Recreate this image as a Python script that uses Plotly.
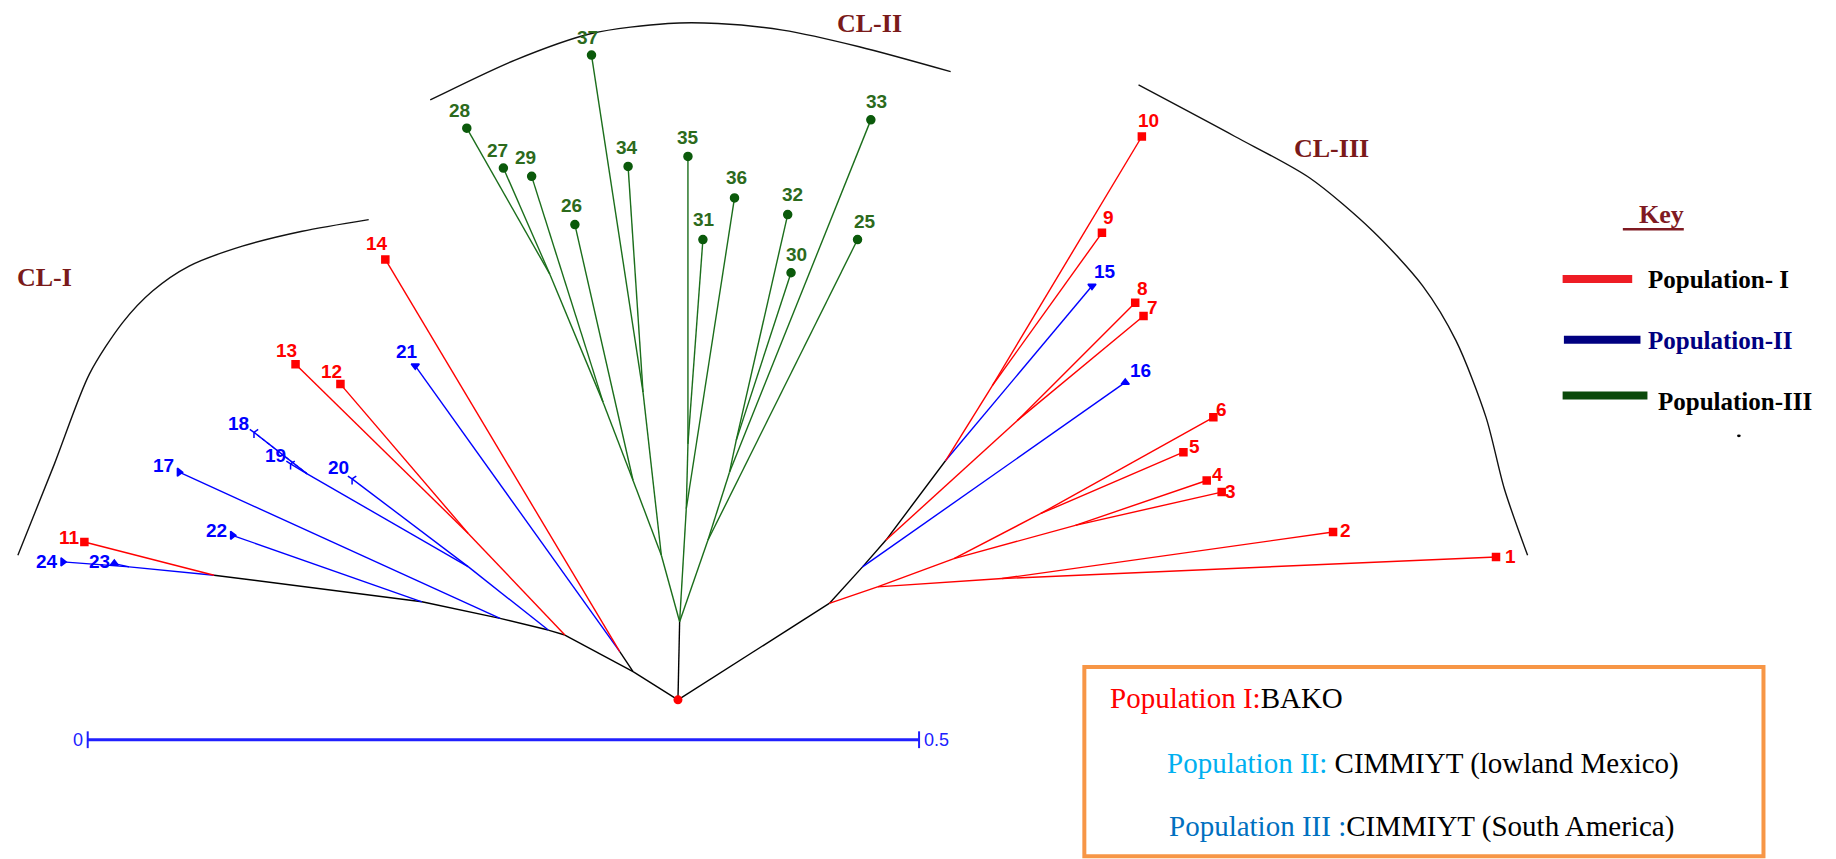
import plotly.graph_objects as go

# ---------------- data (tree distance units, root of the tree at origin) ----------------
leaf_ids = [str(i) for i in range(1, 38)]
# 1 = Population I (BAKO), 2 = Population II, 3 = Population III
leaf_pop = [1] * 14 + [2] * 10 + [3] * 13
leaf_x = [0.492, 0.394, 0.327, 0.318, 0.304, 0.322, 0.280, 0.275, 0.255, 0.279,
          -0.357, -0.203, -0.230, -0.176, 0.249, 0.269, -0.300, -0.255, -0.233, -0.196,
          -0.158, -0.268, -0.339, -0.370, 0.108, -0.062, -0.105, -0.127, -0.088, 0.068,
          0.015, 0.066, 0.116, -0.030, 0.006, 0.034, -0.052]
leaf_y = [0.086, 0.101, 0.125, 0.132, 0.149, 0.170, 0.231, 0.239, 0.281, 0.339,
          0.095, 0.190, 0.202, 0.265, 0.249, 0.191, 0.137, 0.161, 0.142, 0.133,
          0.201, 0.099, 0.082, 0.083, 0.277, 0.286, 0.320, 0.344, 0.315, 0.257,
          0.277, 0.292, 0.349, 0.321, 0.327, 0.302, 0.388]

node_names = ['R', 'G0', 'GL', 'GL1', 'GL2', 'G2827', 'GA', 'GM', 'GM1', 'GR', 'GR1', 'GR2',
              'L1', 'N1421', 'L2', 'N1213', 'L3', 'B1', 'B19', 'L4', 'L5', 'L6', 'N2324',
              'Rn1', 'N1', 'N12', 'N3456', 'N34', 'N56', 'Rn2', 'Rn3', 'N78', 'Rn4', 'N910']
node_x = [0.0, 0.001, -0.010, -0.027, -0.045, -0.077, -0.021, 0.005, 0.006, 0.018, 0.031, 0.035,
          -0.027, -0.035, -0.068, -0.126, -0.078, -0.126, -0.223, -0.107, -0.154, -0.279, -0.330,
          0.091, 0.120, 0.195, 0.166, 0.239, 0.218, 0.111, 0.125, 0.204, 0.161, 0.189]
node_y = [0.0, 0.047, 0.087, 0.132, 0.179, 0.256, 0.185, 0.115, 0.154, 0.096, 0.137, 0.156,
          0.017, 0.029, 0.039, 0.100, 0.042, 0.080, 0.136, 0.049, 0.059, 0.075, 0.080,
          0.058, 0.068, 0.073, 0.085, 0.105, 0.112, 0.080, 0.096, 0.168, 0.144, 0.189]
# clade of each internal node: 0 = backbone (black), else population
node_clade = [0, 0, 3, 3, 3, 3, 3, 3, 3, 3, 3, 3,
              0, 0, 0, 1, 0, 2, 2, 0, 0, 0, 2,
              0, 1, 1, 1, 1, 1, 0, 0, 1, 0, 1]

edges = [
    ('R', 'G0'), ('G0', 'GL'), ('G0', 'GM'), ('G0', 'GR'), ('GL', 'GL1'), ('GL', 'GA'),
    ('GL1', 'GL2'), ('GL1', '26'), ('GL2', 'G2827'), ('GL2', '29'), ('G2827', '28'),
    ('G2827', '27'), ('GA', '37'), ('GA', '34'), ('GM', 'GM1'), ('GM', '36'), ('GM1', '35'),
    ('GM1', '31'), ('GR', '25'), ('GR', 'GR1'), ('GR1', '33'), ('GR1', 'GR2'), ('GR2', '32'),
    ('GR2', '30'),
    ('R', 'L1'), ('L1', 'N1421'), ('N1421', '14'), ('N1421', '21'), ('L1', 'L2'),
    ('L2', 'N1213'), ('N1213', '12'), ('N1213', '13'), ('L2', 'L3'), ('L3', 'B1'),
    ('B1', '20'), ('B1', 'B19'), ('B19', '19'), ('B19', '18'), ('L3', 'L4'), ('L4', '17'),
    ('L4', 'L5'), ('L5', '22'), ('L5', 'L6'), ('L6', '11'), ('L6', 'N2324'), ('N2324', '23'),
    ('N2324', '24'),
    ('R', 'Rn1'), ('Rn1', 'N1'), ('N1', 'N12'), ('N12', '1'), ('N12', '2'), ('N1', 'N3456'),
    ('N3456', 'N34'), ('N34', '3'), ('N34', '4'), ('N3456', 'N56'), ('N56', '5'), ('N56', '6'),
    ('Rn1', 'Rn2'), ('Rn2', '16'), ('Rn2', 'Rn3'), ('Rn3', 'N78'), ('N78', '7'), ('N78', '8'),
    ('Rn3', 'Rn4'), ('Rn4', '15'), ('Rn4', 'N910'), ('N910', '9'), ('N910', '10'),
]
faint_edges = [('B19', '18')]

cluster_names = ['CL-I', 'CL-II', 'CL-III']
cluster_label_x = [-0.381, 0.115, 0.393]
cluster_label_y = [0.254, 0.407, 0.332]
arc1_x = [-0.397, -0.375, -0.354, -0.334, -0.316, -0.294, -0.262, -0.226, -0.186]
arc1_y = [0.087, 0.142, 0.196, 0.227, 0.246, 0.261, 0.273, 0.282, 0.289]
arc2_x = [-0.149, -0.098, -0.052, -0.006, 0.024, 0.063, 0.109, 0.164]
arc2_y = [0.361, 0.385, 0.401, 0.407, 0.407, 0.403, 0.393, 0.378]
arc3_x = [0.277, 0.335, 0.380, 0.418, 0.448, 0.468, 0.486, 0.497, 0.511]
arc3_y = [0.370, 0.339, 0.314, 0.282, 0.249, 0.216, 0.170, 0.127, 0.087]

scale_start = -0.355
scale_len = 0.5
scale_y = -0.024

pop_names = ['Population- I', 'Population-II', 'Population-III']

# ---------------- styles ----------------
RED, BLUE, GREEN = '#FF0000', '#0000FF', '#1B6E1B'
clade_color = {0: '#000000', 1: RED, 2: BLUE, 3: GREEN}
label_color = {1: '#FF0000', 2: '#0000FF', 3: '#2C6A1C'}
marker_color = {1: '#FF0000', 2: '#0000FF', 3: '#0B5A0B'}
leaf_symbol = (['square'] * 14 +
               ['triangle-down', 'triangle-up', 'triangle-right', 'y-down-open', 'y-down-open',
                'y-down-open', 'triangle-down', 'triangle-right', 'triangle-up', 'triangle-right'] +
               ['circle'] * 13)
# label offsets in screen px (dx right, dy down)
label_off = [(14, 0), (12, -2), (9, -1), (11, -6), (11, -6), (8, -8), (9, -8), (7, -14), (7, -15),
             (7, -16), (-15, -4), (-9, -13), (-9, -14), (-8, -16), (13, -15), (15, -12), (-16, -7),
             (-15, -9), (-15, -8), (-14, -11), (-8, -14), (-16, -5), (-15, -2), (-16, 0),
             (7, -18), (-3, -19), (-6, -18), (-7, -18), (-6, -19), (5, -18), (1, -20), (5, -20),
             (6, -18), (-1, -19), (0, -19), (2, -20), (-4, -18)]

pos = {}
for n, x, y in zip(leaf_ids, leaf_x, leaf_y):
    pos[n] = (x, y)
for n, x, y in zip(node_names, node_x, node_y):
    pos[n] = (x, y)
col_of = {n: clade_color[p] for n, p in zip(leaf_ids, leaf_pop)}
col_of.update({n: clade_color[c] for n, c in zip(node_names, node_clade)})

fig = go.Figure()

# edges grouped by color
groups = {}
for a, b in edges:
    c = col_of[b]
    xs, ys = groups.setdefault(c, ([], []))
    xs += [pos[a][0], pos[b][0], None]
    ys += [pos[a][1], pos[b][1], None]
order = ['#000000', GREEN, BLUE, RED]
for c in order:
    if c in groups:
        xs, ys = groups[c]
        fig.add_trace(go.Scatter(x=xs, y=ys, mode='lines', hoverinfo='skip',
                                 line=dict(color=c, width=1.4)))
for a, b in faint_edges:
    fig.add_trace(go.Scatter(x=[pos[a][0], pos[b][0]], y=[pos[a][1], pos[b][1]], mode='lines',
                             line=dict(color=BLUE, width=1.2, dash='dot'), hoverinfo='skip'))

# cluster arcs
for ax_, ay_ in [(arc1_x, arc1_y), (arc2_x, arc2_y), (arc3_x, arc3_y)]:
    fig.add_trace(go.Scatter(x=ax_, y=ay_, mode='lines', hoverinfo='skip',
                             line=dict(color='#111111', width=1.4, shape='spline', smoothing=0.8)))

# leaf markers
for p in (1, 2, 3):
    idx = [i for i, q in enumerate(leaf_pop) if q == p]
    fig.add_trace(go.Scatter(
        x=[leaf_x[i] for i in idx], y=[leaf_y[i] for i in idx], mode='markers',
        text=[leaf_ids[i] for i in idx], hoverinfo='text',
        marker=dict(symbol=[leaf_symbol[i] for i in idx], size=8 if p == 3 else 7,
                    color=marker_color[p], line=dict(color=marker_color[p], width=1.5))))

# root
fig.add_trace(go.Scatter(x=[pos['R'][0]], y=[pos['R'][1]], mode='markers', hoverinfo='skip',
                         marker=dict(symbol='circle', size=9, color='#FF0000')))

# scale bar
fig.add_trace(go.Scatter(x=[scale_start, scale_start + scale_len], y=[scale_y, scale_y],
                         mode='lines+markers', hoverinfo='skip',
                         line=dict(color='#2020FF', width=3),
                         marker=dict(symbol='line-ns-open', size=12,
                                     line=dict(color='#2020FF', width=2))))

ann = []
label_font = 'Liberation Sans Narrow, Arial Narrow, Liberation Sans, Arial'
for i, n in enumerate(leaf_ids):
    dx, dy = label_off[i]
    ann.append(dict(x=leaf_x[i], y=leaf_y[i], xref='x', yref='y', text='<b>%s</b>' % n,
                    showarrow=False, xshift=dx, yshift=-dy, xanchor='center', yanchor='middle',
                    font=dict(family=label_font, size=19, color=label_color[leaf_pop[i]])))

serif = 'Liberation Serif, Times New Roman, serif'
for name, x, y in zip(cluster_names, cluster_label_x, cluster_label_y):
    ann.append(dict(x=x, y=y, xref='x', yref='y', text='<b>%s</b>' % name, showarrow=False,
                    xanchor='center', yanchor='middle',
                    font=dict(family=serif, size=26, color='#7A1A1A')))

ann.append(dict(x=scale_start, y=scale_y, xref='x', yref='y', text='0', showarrow=False,
                xanchor='right', yanchor='middle', xshift=-3,
                font=dict(family=label_font, size=18, color='#2020FF')))
ann.append(dict(x=scale_start + scale_len, y=scale_y, xref='x', yref='y', text='0.5',
                showarrow=False, xanchor='left', yanchor='middle', xshift=3,
                font=dict(family=label_font, size=18, color='#2020FF')))

# key
ann.append(dict(x=0.9047, y=0.7505, xref='paper', yref='paper', text='<b>Key</b>',
                showarrow=False, xanchor='center', yanchor='middle',
                font=dict(family=serif, size=26, color='#7F1A22')))
key_line_x0 = [0.8511, 0.8518, 0.8511]
key_line_x1 = [0.8890, 0.8935, 0.8973]
key_line_y = [0.6751, 0.6044, 0.5395]
key_line_col = ['#EE1C24', '#000080', '#0B4A0B']
key_text_x = [0.8964, 0.8964, 0.9018]
key_text_y = [0.6751, 0.6035, 0.5327]
key_text_col = ['#000000', '#000080', '#000000']
shapes = []
for i in range(3):
    shapes.append(dict(type='line', xref='paper', yref='paper', x0=key_line_x0[i],
                       x1=key_line_x1[i], y0=key_line_y[i], y1=key_line_y[i],
                       line=dict(color=key_line_col[i], width=8)))
    ann.append(dict(x=key_text_x[i], y=key_text_y[i], xref='paper', yref='paper',
                    text='<b>%s</b>' % pop_names[i], showarrow=False, xanchor='left',
                    yanchor='middle', font=dict(family=serif, size=25, color=key_text_col[i])))
shapes.append(dict(type='line', xref='paper', yref='paper', x0=0.8839, x1=0.9171,
                   y0=0.7332, y1=0.7332, line=dict(color='#7F1A22', width=2.5)))
shapes.append(dict(type='circle', xref='paper', yref='paper', x0=0.9461, x1=0.9481,
                   y0=0.4911, y1=0.4941, fillcolor='#000000', line=dict(width=0)))

# description box
shapes.append(dict(type='rect', xref='paper', yref='paper', x0=0.5906, x1=0.9605,
                   y0=0.0033, y1=0.2234, line=dict(color='#F79646', width=4),
                   fillcolor='rgba(0,0,0,0)'))
box_text = ['<span style="color:#FF0000">Population I:</span>BAKO',
            '<span style="color:#00B0F0">Population II:</span> CIMMIYT (lowland Mexico)',
            '<span style="color:#0070C0">Population III :</span>CIMMIYT (South America)']
box_x = [0.6033, 0.6346, 0.6358]
box_y = [0.1880, 0.1110, 0.0380]
for t, x, y in zip(box_text, box_x, box_y):
    ann.append(dict(x=x, y=y, xref='paper', yref='paper', text=t, showarrow=False,
                    xanchor='left', yanchor='middle',
                    font=dict(family=serif, size=29, color='#000000')))

fig.update_layout(
    width=1836, height=859, margin=dict(l=0, r=0, t=0, b=0),
    paper_bgcolor='white', plot_bgcolor='white', showlegend=False,
    xaxis=dict(range=[-0.40775, 0.69648], visible=False, fixedrange=True),
    yaxis=dict(range=[-0.09577, 0.42113], visible=False, fixedrange=True),
    annotations=ann, shapes=shapes,
)
fig.write_html('out.html', config={'displayModeBar': False},
               post_script="document.body.style.margin='0';document.body.style.overflow='hidden';")
